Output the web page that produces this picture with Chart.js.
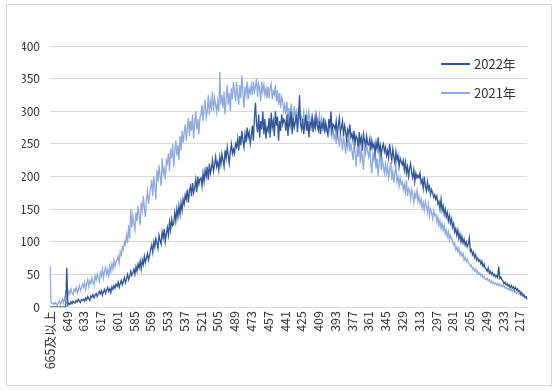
<!DOCTYPE html>
<html>
<head>
<meta charset="utf-8">
<script src="https://cdn.jsdelivr.net/npm/chart.js@4/dist/chart.umd.min.js"></script>
<style>
  html, body { margin: 0; padding: 0; background: #fff; }
  #wrap { position: relative; width: 559px; height: 391px; }
  #frame { position: absolute; left: 6px; top: 4px; width: 546px; height: 382px; border: 1px solid #d9d9d9; box-sizing: border-box; pointer-events: none; }
  #legend { position: absolute; left: 441px; top: 49px; font-family: "Noto Sans CJK SC", "DejaVu Sans", sans-serif; font-size: 13px; color: #333; }
  .item { display: flex; align-items: center; height: 29px; }
  .swatch { width: 29px; height: 2px; margin-right: 4px; }
</style>
</head>
<body>
<div id="wrap">
  <canvas id="chart" width="559" height="391"></canvas>
  <div id="frame"></div>
  <div id="legend">
    <div class="item"><span class="swatch" style="background:#2f5597"></span>2022年</div>
    <div class="item"><span class="swatch" style="background:#8faadc"></span>2021年</div>
  </div>
</div>
<script>
// 分数档：665及以上, 664 ... 210
const scores = ['665及以上'];
for (let s = 664; s >= 210; s--) scores.push(String(s));

// 2022年 每分人数（按 16 分一组读图）
const counts2022 = [
  0, 0, 0, 0, 0, 0, 0, 0, 0, 0, 0, 0, 0, 0, 0, 0,
  60, 3, 6, 4, 8, 5, 9, 7, 6, 10, 8, 12, 9, 7, 11, 10,
  12, 9, 14, 11, 16, 13, 10, 17, 15, 19, 14, 18, 21, 16, 20, 24,
  20, 25, 18, 23, 27, 21, 26, 30, 24, 28, 22, 31, 27, 33, 29, 35,
  32, 38, 30, 36, 41, 34, 39, 45, 37, 43, 50, 42, 47, 55, 48, 52,
  58, 50, 62, 55, 66, 60, 70, 58, 72, 65, 78, 68, 75, 82, 72, 80,
  88, 95, 84, 100, 92, 105, 98, 90, 110, 102, 96, 115, 106, 120, 100, 112,
  122, 110, 130, 118, 135, 125, 128, 145, 132, 150, 138, 155, 142, 160, 148, 165,
  158, 172, 165, 180, 160, 178, 185, 170, 190, 175, 182, 195, 176, 200, 188, 196,
  198, 185, 205, 192, 210, 200, 215, 195, 220, 205, 212, 225, 208, 218, 230, 215,
  222, 210, 230, 218, 235, 225, 215, 240, 228, 245, 232, 220, 238, 250, 235, 242,
  235, 250, 245, 258, 240, 262, 248, 270, 255, 245, 265, 252, 275, 260, 268, 250,
  262, 278, 255, 290, 313, 280, 268, 295, 260, 285, 272, 300, 265, 288, 258, 275,
  270, 290, 260, 298, 275, 285, 262, 300, 278, 292, 255, 285, 270, 295, 280, 288,
  285, 270, 295, 262, 288, 278, 300, 265, 290, 275, 283, 295, 268, 290, 325, 280,
  272, 288, 265, 280, 295, 270, 285, 260, 282, 278, 290, 268, 285, 275, 292, 278,
  270, 285, 265, 280, 275, 290, 268, 282, 272, 265, 288, 275, 300, 270, 280, 278,
  272, 285, 265, 278, 290, 268, 275, 285, 262, 278, 270, 255, 272, 265, 280, 260,
  265, 255, 270, 250, 262, 258, 245, 268, 252, 260, 240, 265, 255, 248, 262, 250,
  248, 258, 240, 255, 245, 250, 235, 252, 242, 260, 238, 248, 232, 245, 250, 238,
  245, 232, 240, 228, 250, 235, 225, 242, 230, 220, 238, 225, 232, 215, 228, 222,
  218, 225, 210, 222, 205, 215, 200, 212, 220, 205, 198, 210, 192, 205, 198, 202,
  198, 205, 190, 195, 182, 200, 185, 178, 192, 180, 185, 172, 180, 175, 168, 172,
  165, 170, 158, 162, 150, 165, 148, 155, 142, 150, 138, 145, 132, 140, 128, 135,
  122, 128, 115, 120, 110, 118, 105, 112, 100, 108, 98, 104, 95, 100, 92, 96,
  106, 85, 88, 80, 84, 76, 80, 72, 75, 70, 72, 66, 70, 62, 66, 60,
  58, 55, 60, 52, 55, 50, 53, 48, 50, 46, 48, 45, 62, 44, 46, 42,
  40, 36, 38, 34, 36, 32, 34, 30, 33, 29, 31, 27, 30, 26, 28, 24,
  25, 20, 22, 18, 19, 15, 16, 12
];

// 2021年 每分人数
const counts2021 = [
  62, 8, 5, 6, 4, 7, 5, 3, 6, 10, 4, 8, 12, 6, 15, 20,
  30, 18, 25, 20, 28, 22, 19, 27, 24, 30, 21, 26, 33, 25, 29, 35,
  30, 38, 27, 35, 42, 31, 40, 36, 45, 38, 34, 48, 41, 50, 44, 39,
  52, 47, 58, 44, 55, 61, 50, 57, 48, 63, 54, 66, 58, 72, 62, 70,
  72, 78, 68, 85, 80, 92, 88, 100, 96, 110, 98, 125, 105, 150, 122, 140,
  128, 118, 145, 132, 155, 140, 125, 160, 148, 170, 152, 138, 165, 178, 158, 172,
  182, 195, 170, 200, 188, 165, 210, 192, 218, 200, 185, 228, 205, 212, 195, 225,
  220, 235, 208, 242, 228, 250, 215, 238, 255, 232, 248, 225, 262, 240, 270, 252,
  268, 280, 255, 275, 290, 262, 285, 270, 295, 258, 282, 300, 272, 288, 265, 290,
  295, 310, 285, 305, 318, 290, 300, 325, 295, 315, 305, 330, 300, 320, 310, 298,
  315, 300, 360, 310, 325, 305, 330, 295, 320, 340, 310, 328, 300, 335, 318, 345,
  330, 315, 345, 325, 310, 340, 320, 355, 330, 305, 338, 325, 345, 318, 335, 328,
  340, 325, 345, 330, 338, 350, 322, 342, 335, 315, 345, 330, 340, 325, 335, 320,
  338, 320, 335, 342, 318, 330, 325, 340, 315, 332, 310, 328, 305, 322, 315, 300,
  310, 295, 315, 290, 305, 285, 312, 298, 282, 308, 292, 300, 285, 305, 290, 295,
  290, 280, 298, 285, 275, 295, 282, 300, 288, 270, 292, 285, 278, 295, 280, 288,
  282, 295, 275, 288, 270, 285, 265, 280, 275, 260, 278, 268, 285, 262, 272, 258,
  265, 250, 272, 258, 245, 268, 255, 240, 262, 250, 235, 258, 245, 262, 238, 250,
  240, 225, 250, 235, 215, 245, 230, 255, 220, 240, 228, 210, 245, 235, 250, 238,
  230, 245, 220, 205, 235, 225, 240, 212, 228, 200, 222, 235, 210, 225, 215, 205,
  220, 205, 215, 198, 210, 222, 195, 208, 190, 205, 215, 192, 200, 185, 198, 188,
  192, 180, 188, 175, 195, 170, 182, 178, 165, 180, 172, 160, 175, 168, 178, 162,
  170, 158, 165, 152, 160, 148, 162, 155, 145, 158, 140, 150, 145, 135, 148, 140,
  142, 130, 138, 125, 132, 120, 128, 118, 125, 112, 118, 108, 115, 102, 110, 105,
  100, 95, 98, 88, 92, 85, 90, 80, 84, 78, 82, 72, 76, 70, 74, 68,
  66, 62, 64, 58, 60, 55, 58, 52, 55, 50, 52, 48, 50, 45, 47, 43,
  42, 44, 40, 42, 38, 40, 36, 38, 35, 37, 34, 36, 33, 35, 32, 33,
  31, 33, 29, 30, 28, 27, 29, 25, 27, 24, 26, 23, 24, 21, 23, 20,
  21, 18, 19, 16, 17, 14, 15, 12
];

const yTicks = [0, 50, 100, 150, 200, 250, 300, 350, 400];
const labelStep = 16; // 横轴每 16 个分数显示一个标签

const fontFamily = '"Noto Sans CJK SC", "DejaVu Sans", sans-serif';

new Chart(document.getElementById('chart'), {
  type: 'line',
  data: {
    labels: scores,
    datasets: [
      {
        label: '2022年',
        data: counts2022,
        borderColor: '#2f5597',
        borderWidth: 1.3,
        pointRadius: 0,
        tension: 0,
        order: 1
      },
      {
        label: '2021年',
        data: counts2021,
        borderColor: '#8faadc',
        borderWidth: 1.3,
        pointRadius: 0,
        tension: 0,
        order: 2
      }
    ]
  },
  options: {
    responsive: false,
    animation: false,
    layout: { padding: { left: 22, right: 32, top: 46, bottom: 12 } },
    plugins: {
      legend: { display: false },
      tooltip: { enabled: false }
    },
    scales: {
      x: {
        offset: false,
        grid: { display: false, drawTicks: false },
        border: { color: '#d9d9d9' },
        afterFit: function(axis) {
          axis.height = 72;
          axis.paddingLeft = 0;
          axis.paddingRight = 0;
        },
        ticks: {
          autoSkip: false,
          minRotation: 90,
          maxRotation: 90,
          padding: 4,
          color: '#333',
          font: { family: fontFamily, size: 12.5 },
          callback: function(value, index) {
            return index % labelStep === 0 ? scores[index] : null;
          }
        }
      },
      y: {
        min: yTicks[0],
        max: yTicks[yTicks.length - 1],
        afterBuildTicks: function(axis) {
          axis.ticks = yTicks.map(v => ({ value: v }));
        },
        afterFit: function(axis) {
          axis.width = 28;
        },
        grid: { color: '#d9d9d9', drawTicks: false },
        border: { display: false },
        ticks: {
          padding: 10,
          color: '#333',
          font: { family: fontFamily, size: 12 }
        }
      }
    }
  }
});
</script>
</body>
</html>
